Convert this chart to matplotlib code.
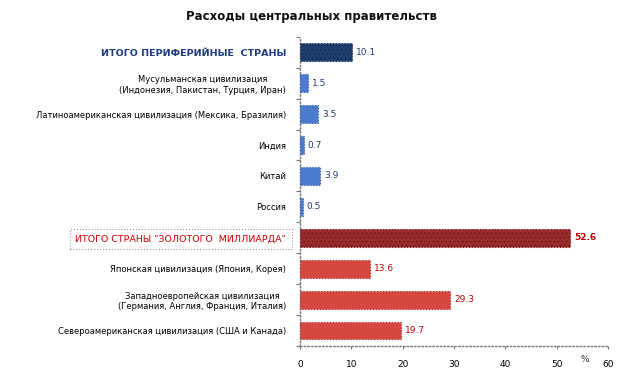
import matplotlib.pyplot as plt
import numpy as np

# Data (top to bottom)
categories = [
    'ИТОГО ПЕРИФЕРИЙНЫЕ  СТРАНЫ',
    'Мусульманская цивилизация\n(Индонезия, Пакистан, Турция, Иран)',
    'Латиноамериканская цивилизация (Мексика, Бразилия)',
    'Индия',
    'Китай',
    'Россия',
    'ИТОГО СТРАНЫ "ЗОЛОТОГО  МИЛЛИАРДА"',
    'Японская цивилизация (Япония, Корея)',
    'Западноевропейская цивилизация\n(Германия, Англия, Франция, Италия)',
    'Североамериканская цивилизация (США и Канада)',
]
values = [10.1, 1.5, 3.5, 0.7, 3.9, 0.5, 52.6, 13.6, 29.3, 19.7]
groups = ['blue_total', 'blue', 'blue', 'blue', 'blue', 'blue',
          'red_total', 'red', 'red', 'red']
x_ticks = [0, 10, 20, 30, 40, 50, 60]

bar_colors = {'blue_total': '#1f3f6f', 'blue': '#4a7bcf',
              'red_total': '#9c2b2e', 'red': '#d5473f'}
edge_colors = {'blue_total': '#14305a', 'blue': '#2f5a9e',
               'red_total': '#7a1f22', 'red': '#9e2f2a'}
text_colors = {'blue_total': '#1f3b70', 'blue': '#1f3b70',
               'red_total': '#c00000', 'red': '#c00000'}

fig = plt.figure(figsize=(6.23, 3.76), dpi=100)
ax = fig.add_axes([0.4815, 0.08, 0.4945, 0.822])

y = np.arange(len(values))
for i, (v, g) in enumerate(zip(values, groups)):
    plt.rcParams['hatch.color'] = edge_colors[g]
    ax.barh(i, v, height=0.58, color=bar_colors[g], edgecolor=edge_colors[g],
            linewidth=0.8, linestyle=':', hatch='....' if 'total' in g else '',
            zorder=3)
    ax.text(v + 0.8, i, f'{v}', va='center', ha='left', fontsize=6.5,
            color=text_colors[g], fontweight='bold' if g == 'red_total' else 'normal')

ax.set_ylim(len(values) - 0.5, -0.5)
ax.set_xlim(0, 60)
ax.set_xticks(x_ticks)
ax.set_xticklabels([str(t) for t in x_ticks], fontsize=6.5)
ax.tick_params(axis='x', length=2, pad=8, color='#777777')

# category ticks at slot boundaries
ax.set_yticks(np.arange(-0.5, len(values), 1.0))
ax.set_yticklabels([])
ax.tick_params(axis='y', length=3, color='#777777')
ax.set_yticks(y, minor=True)
ax.set_yticklabels(categories, minor=True, fontsize=6)
ax.tick_params(axis='y', which='minor', length=0, pad=10)

for lab, g in zip(ax.get_yticklabels(minor=True), groups):
    lab.set_multialignment('center')
    if g == 'blue_total':
        lab.set_color('#1f3b80')
        lab.set_fontweight('bold')
        lab.set_fontsize(6.8)
    elif g == 'red_total':
        lab.set_color('#d00000')
        lab.set_fontsize(6.8)
        lab.set_bbox(dict(boxstyle='square,pad=0.6', facecolor='none',
                          edgecolor='#999999', linestyle=':', linewidth=0.8))

for s in ['top', 'right']:
    ax.spines[s].set_visible(False)
for s in ['left', 'bottom']:
    ax.spines[s].set_linestyle(':')
    ax.spines[s].set_color('#777777')
    ax.spines[s].set_linewidth(1.0)

ax.text(55.5, -0.045, '%', transform=ax.get_xaxis_transform(), ha='center',
        va='center', fontsize=6.5, color='#333333')

fig.text(0.5, 0.955, 'Расходы центральных правительств', ha='center', va='center',
         fontsize=8.5, fontweight='bold', color='#111111')

fig.savefig('out.png', dpi=100, facecolor='white')
